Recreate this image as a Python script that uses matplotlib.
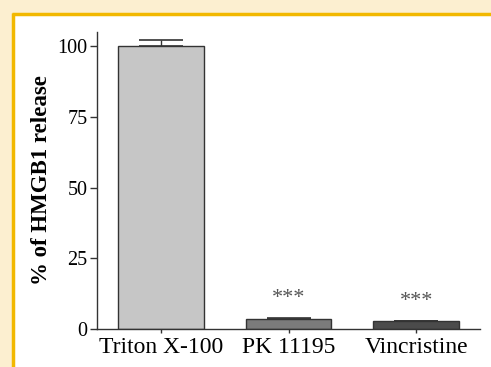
import matplotlib.pyplot as plt
from matplotlib.patches import Rectangle

# data
treatments = ['Triton X-100', 'PK 11195', 'Vincristine']
release = [100.0, 3.5, 2.9]
errors = [2.0, 0.5, 0.0]
stars = ['', '***', '***']
bar_colors = ['#c6c6c6', '#7b7b7b', '#4b4b4b']

plt.rcParams['font.family'] = ['Liberation Serif', 'DejaVu Serif']

fig = plt.figure(figsize=(4.91, 3.67), dpi=100)
fig.patch.set_facecolor('#fcefd0')

# white panel with gold border (journal figure frame), in pixel coords
bg = fig.add_axes([0, 0, 1, 1], zorder=-1)
bg.set_xlim(0, 491)
bg.set_ylim(367, 0)
bg.axis('off')
bg.add_patch(Rectangle((14, 14), 480, 360, facecolor='white', edgecolor='none'))
bg.plot([13.5, 13.5], [13, 367], color='#f2b800', lw=2.5, solid_capstyle='butt')
bg.plot([12, 491], [13.5, 13.5], color='#f2b800', lw=2.5, solid_capstyle='butt')

ax = fig.add_axes([97 / 491, 1 - 329 / 367, 383 / 491, 297 / 367])
ax.set_facecolor('none')

x = list(range(len(treatments)))
# only the upper half of the error bar is shown
ax.bar(x, release, width=0.67, color=bar_colors, edgecolor='#333333', linewidth=1,
       yerr=[[0] * len(errors), errors],
       error_kw=dict(ecolor='#333333', elinewidth=1, capsize=15.5, capthick=1.2))

for i, s in enumerate(stars):
    if s:
        ax.text(i, release[i] + errors[i] + 6.8, s, ha='center', va='center',
                fontsize=16, color='#555555')

ax.set_xlim(-0.5, 2.5)
ax.set_ylim(0, 105)
ax.set_yticks([0, 25, 50, 75, 100])
ax.set_xticks(x)
ax.set_xticklabels(treatments)

ax.spines['top'].set_visible(False)
ax.spines['right'].set_visible(False)
for sp in ['left', 'bottom']:
    ax.spines[sp].set_color('#333333')
    ax.spines[sp].set_linewidth(1)

ax.tick_params(axis='y', length=5, width=1, color='#333333', labelsize=14.5, pad=2)
ax.tick_params(axis='x', length=3, width=1, color='#333333', labelsize=17, pad=3)

ax.set_ylabel('% of HMGB1 release', fontsize=16.5, fontweight='bold')
ax.yaxis.set_label_coords(-0.117, 0.5)

fig.savefig('out.png', dpi=100, facecolor=fig.get_facecolor())
